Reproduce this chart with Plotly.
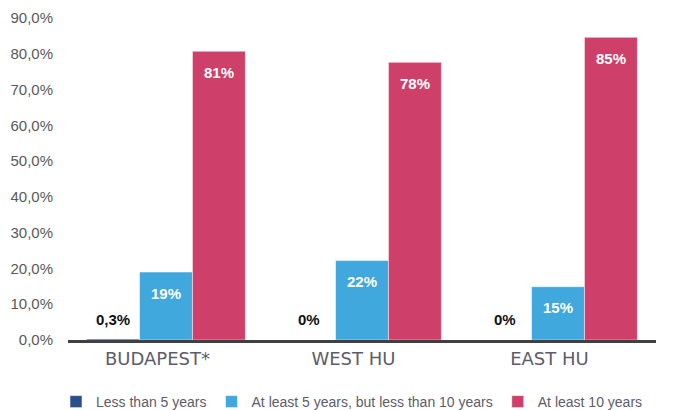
from plotly import graph_objects as go

regions = ["BUDAPEST*", "WEST HU", "EAST HU"]
series_names = ["Less than 5 years",
                "At least 5 years, but less than 10 years",
                "At least 10 years"]
less_5 = [0.3, 0.0, 0.0]
between_5_10 = [19.0, 22.2, 14.9]
at_least_10 = [80.7, 77.6, 84.6]
labels_less_5 = ["0,3%", "0%", "0%"]
labels_5_10 = ["19%", "22%", "15%"]
labels_10 = ["81%", "78%", "85%"]
y_ticks = [0, 10, 20, 30, 40, 50, 60, 70, 80, 90]
y_tick_text = ["0,0%", "10,0%", "20,0%", "30,0%", "40,0%", "50,0%",
               "60,0%", "70,0%", "80,0%", "90,0%"]

bar_colors = ["#2c4f8c", "#40a8dd", "#ce3f69"]

fig = go.Figure()
all_values = [less_5, between_5_10, at_least_10]
for name, vals, col in zip(series_names, all_values, bar_colors):
    fig.add_trace(go.Bar(x=regions, y=vals, name=name,
                         marker=dict(color=col, line=dict(color="white", width=0.5)),
                         hoverinfo="skip"))

# data labels
offsets = [-53, 0, 53]
label_sets = [labels_less_5, labels_5_10, labels_10]
for i, (vals, labs) in enumerate(zip(all_values, label_sets)):
    for reg, v, lab in zip(regions, vals, labs):
        if i == 0:
            fig.add_annotation(x=reg, y=0, text="<b>%s</b>" % lab, showarrow=False,
                               xshift=offsets[i], yshift=21,
                               font=dict(family="Liberation Sans", size=15, color="#111111"))
        else:
            fig.add_annotation(x=reg, y=v, text="<b>%s</b>" % lab, showarrow=False,
                               xshift=offsets[i], yshift=-21,
                               font=dict(family="Liberation Sans", size=15, color="white"))

# page body adds an 8px margin, so the figure is drawn 8px smaller than the window
fig.update_layout(
    width=665, height=402,
    barmode="group", bargap=0.19, bargroupgap=0,
    plot_bgcolor="white", paper_bgcolor="white",
    margin=dict(l=60, r=17, t=10, b=70),
    font=dict(family="Liberation Sans", color="#595959"),
    showlegend=True,
    legend=dict(orientation="h", xref="container", x=48 / 665, xanchor="left",
                yref="container", y=24 / 402, yanchor="top",
                font=dict(size=14, color="#5c5c6a"), itemwidth=30,
                tracegroupgap=0),
)
fig.update_xaxes(showline=True, linecolor="#404040", linewidth=3, ticks="",
                 tickvals=regions,
                 ticktext=[r + "&nbsp;&nbsp;&nbsp;" for r in regions],
                 tickfont=dict(size=18, color="#5c5c6a", family="DejaVu Sans"),
                 showgrid=False, automargin=False)
fig.update_yaxes(range=[0, 90], tickvals=y_ticks, ticktext=y_tick_text,
                 showgrid=False, zeroline=False, showline=False, automargin=False,
                 tickfont=dict(size=15, color="#595959"), ticklabelstandoff=14)

fig.write_html("out.html")
